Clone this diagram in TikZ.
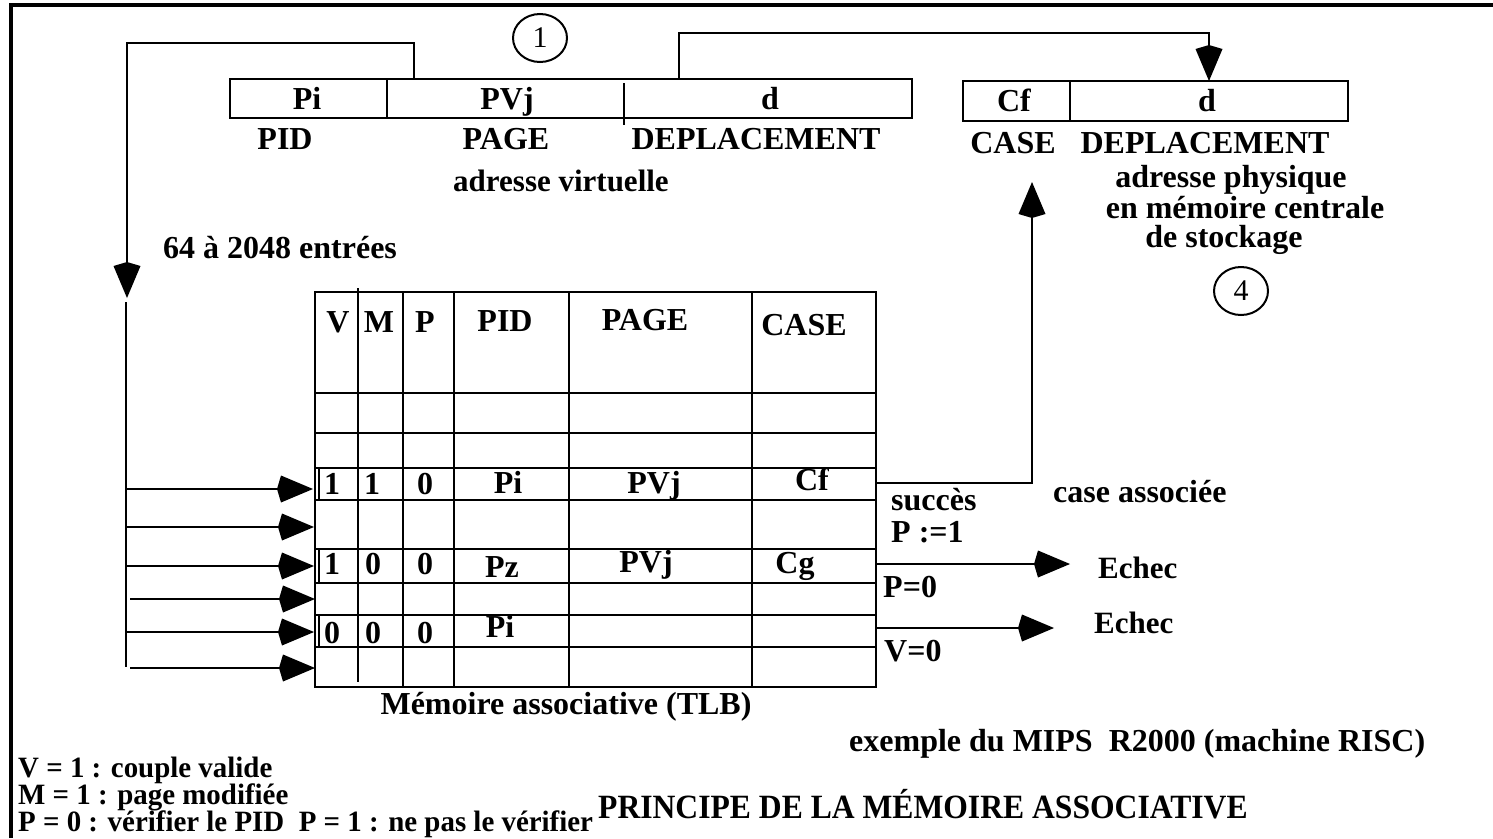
\documentclass[tikz,border=0pt]{standalone}
\usepackage{fontspec}
\usepackage{graphicx}
\setmainfont{Liberation Serif}
\usetikzlibrary{arrows.meta,shapes.geometric}
\newcommand{\narrow}[2]{\scalebox{#1}[1]{#2}}
\begin{document}
\begin{tikzpicture}[x=1pt,y=-1pt,line width=2.4pt,
  txt/.style={font=\fontsize{32}{34}\selectfont\bfseries,inner sep=0pt,anchor=base},
  txtl/.style={txt,anchor=base west},
  legend/.style={txtl,font=\fontsize{29.5}{30}\selectfont\bfseries},
  numcirc/.style={draw,ellipse,line width=2pt,minimum width=54pt,minimum height=48pt,inner sep=0pt,font=\fontsize{30}{32}\selectfont},
  bigarrow/.style={-{Kite[length=36pt,width=27pt,inset=4pt]}},
  frameline/.style={line width=4pt}]
\useasboundingbox (0,0) rectangle (1493,838);

% outer frame (top and left edges)
\draw[frameline] (11,838) -- (11,5) -- (1493,5);

% ---------- virtual address ----------
\draw (230,79) rectangle (912,118);
\draw (387,79) -- (387,118);
\draw (624,83) -- (624,125);
\node[txt] (vpi) at (307,109) {Pi};
\node[txt] (vpv) at (507,109) {PVj};
\node[txt] (vd)  at (770,109) {d};
\node[txt] (lpid)  at (285,149) {PID};
\node[txt] (lpage) at (506,149) {PAGE};
\node[txt] (ldep)  at (756,149) {DEPLACEMENT};
\node[txt,font=\fontsize{31}{33}\selectfont\bfseries] (lvirt) at (561,191) {adresse virtuelle};
\node[numcirc] (c1) at (540,38) {1};

% ---------- physical address ----------
\draw (963,81) rectangle (1348,121);
\draw (1070,81) -- (1070,121);
\node[txt] (pcf) at (1014,111) {Cf};
\node[txt] (pd)  at (1207,111) {d};
\node[txt] (lcase) at (1013,153) {CASE};
\node[txt] (ldep2) at (1205,153) {DEPLACEMENT};
\node[txt] (lph1) at (1231,187) {adresse physique};
\node[txt] (lph2) at (1245,218) {en mémoire centrale};
\node[txt] (lph3) at (1224,247) {de stockage};
\node[numcirc] (c4) at (1241,291) {4};

% ---------- bracket links from the virtual address ----------
\coordinate (pidout) at (414,79);
\coordinate (pidup) at (414,43);
\coordinate (pidleft) at (127,43);
\coordinate (piddown) at (127,298);
\draw[bigarrow] (pidout) -- (pidup) -- (pidleft) -- (piddown);

\coordinate (dout) at (679,79);
\coordinate (dup) at (679,33);
\coordinate (dright) at (1209,33);
\coordinate (din) at (1209,81);
\draw[bigarrow] (dout) -- (dup) -- (dright) -- (din);

\node[txtl] (nentries) at (162,258) {64 à 2048 entrées};

% ---------- associative memory (TLB) ----------
\draw (315,292) rectangle (876,687);
\foreach \x in {403,454,569,752} \draw (\x,292) -- (\x,687);
\draw (358,288) -- (358,682);
\foreach \y in {393,433,468,500,549,583,615,647} \draw (315,\y) -- (876,\y);
% selected entries
\draw (319,468) rectangle (876,500);
\draw (319,549) rectangle (876,583);
\draw (319,615) rectangle (876,647);

% header
\node[txt] (hv) at (338,332) {V};
\node[txt] (hm) at (379,332) {M};
\node[txt] (hp) at (425,332) {P};
\node[txt] (hpid) at (505,331) {PID};
\node[txt] (hpage) at (645,330) {PAGE};
\node[txt] (hcase) at (804,335) {CASE};

% entry 1
\node[txt] (a1) at (332,494) {1};
\node[txt] (a2) at (372,494) {1};
\node[txt] (a3) at (425,494) {0};
\node[txt] (a4) at (508,493) {Pi};
\node[txt] (a5) at (654,493) {PVj};
\node[txt] (a6) at (812,490) {Cf};
% entry 2
\node[txt] (b1) at (332,574) {1};
\node[txt] (b2) at (373,574) {0};
\node[txt] (b3) at (425,574) {0};
\node[txt] (b4) at (502,577) {Pz};
\node[txt] (b5) at (646,572) {PVj};
\node[txt] (b6) at (795,573) {Cg};
% entry 3
\node[txt] (e1) at (332,643) {0};
\node[txt] (e2) at (373,643) {0};
\node[txt] (e3) at (425,643) {0};
\node[txt] (e4) at (500,637) {Pi};

\node[txt] (tlb) at (566,714) {Mémoire associative (TLB)};

% ---------- parallel comparison inputs ----------
\coordinate (bus0) at (126,302);
\coordinate (bus1) at (126,667);
\draw (bus0) -- (bus1);
\coordinate (s1) at (126,489); \coordinate (t1) at (313,489);
\coordinate (s2) at (126,527); \coordinate (t2) at (314,527);
\coordinate (s3) at (126,566); \coordinate (t3) at (314,566);
\coordinate (s4) at (130,599); \coordinate (t4) at (315,599);
\coordinate (s5) at (126,632); \coordinate (t5) at (314,632);
\coordinate (s6) at (130,668); \coordinate (t6) at (315,668);
\foreach \i in {1,...,6} \draw[bigarrow] (s\i) -- (t\i);

% ---------- results ----------
\coordinate (hit) at (876,483);
\coordinate (hitbend) at (1032,483);
\coordinate (hittop) at (1032,182);
\draw[bigarrow] (hit) -- (hitbend) -- (hittop);

\coordinate (miss1) at (876,564);
\coordinate (miss1e) at (1070,564);
\draw[bigarrow] (miss1) -- (miss1e);
\coordinate (miss2) at (876,628);
\coordinate (miss2e) at (1054,628);
\draw[bigarrow] (miss2) -- (miss2e);

\node[txtl] (succ) at (890,510) {succès};
\node[txtl] (pset) at (890,542) {P :=1};
\node[txtl] (assoc) at (1052,502) {case associée};
\node[txtl,font=\fontsize{31}{33}\selectfont\bfseries] (ech1) at (1097,578) {Echec};
\node[txtl,font=\fontsize{31}{33}\selectfont\bfseries] (ech2) at (1093,633) {Echec};
\node[txtl] (pz) at (882,597) {P=0};
\node[txtl] (vz) at (883,661) {V=0};

% ---------- captions ----------
\node[txtl] (mips) at (848,751) {exemple du MIPS\ \ R2000 (machine RISC)};
\node[legend] (leg1) at (17,777) {\narrow{0.98}{V = 1 : couple valide}};
\node[legend] (leg2) at (17,804) {\narrow{0.98}{M = 1 : page modifiée}};
\node[legend] (leg3) at (17,831) {\narrow{0.98}{P = 0 : vérifier le PID\ \ P = 1 : ne pas le vérifier}};
\node[txtl,font=\fontsize{34}{36}\selectfont\bfseries] (title) at (597,818) {\narrow{0.93}{PRINCIPE DE LA MÉMOIRE ASSOCIATIVE}};
\end{tikzpicture}
\end{document}
